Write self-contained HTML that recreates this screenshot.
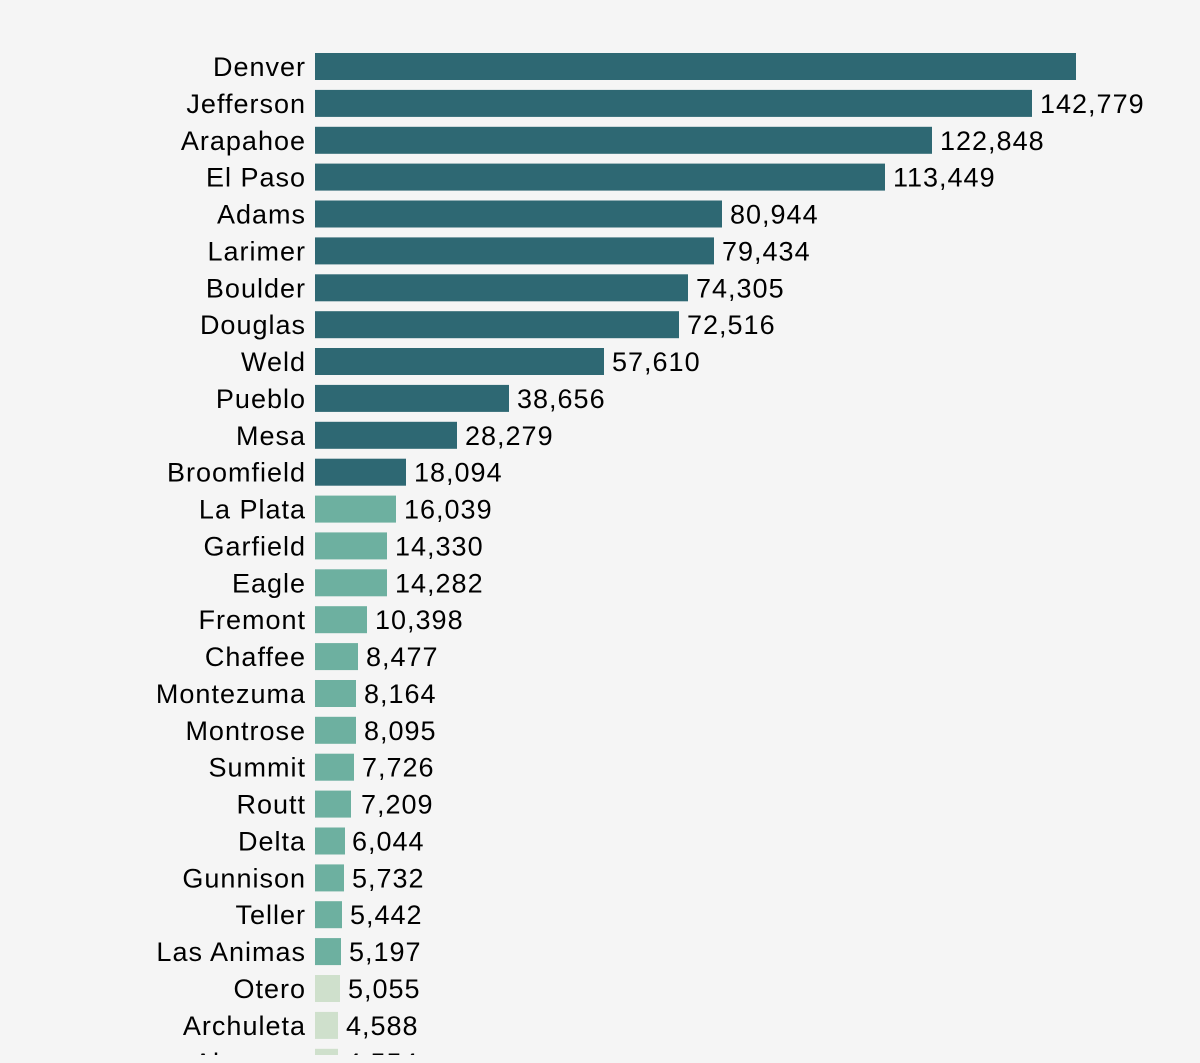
<!DOCTYPE html>
<html><head><meta charset="utf-8"><style>
html,body{margin:0;padding:0;background:#f5f5f5;}
svg{display:block;font-family:"Liberation Sans","DejaVu Sans",sans-serif;font-size:27px;letter-spacing:1px;}
.l{text-anchor:end;fill:#000}
.v{fill:#000}
.d{fill:#2e6873}.m{fill:#6db0a0}.s{fill:#cfe0cc}
</style></head><body>
<svg width="1200" height="1063" viewBox="0 0 1200 1063">
<rect width="1200" height="1063" fill="#f5f5f5"/>
<clipPath id="c"><rect x="0" y="0" width="1200" height="1055"/></clipPath>
<g clip-path="url(#c)">
<rect class="d" x="315" y="53" width="761" height="27"/><text class="l" x="306" y="76">Denver</text>
<rect class="d" x="315" y="89.9" width="717" height="27"/><text class="l" x="306" y="112.9">Jefferson</text><text class="v" x="1040" y="112.9">142,779</text>
<rect class="d" x="315" y="126.8" width="617" height="27"/><text class="l" x="306" y="149.8">Arapahoe</text><text class="v" x="940" y="149.8">122,848</text>
<rect class="d" x="315" y="163.6" width="570" height="27"/><text class="l" x="306" y="186.6">El Paso</text><text class="v" x="893" y="186.6">113,449</text>
<rect class="d" x="315" y="200.5" width="407" height="27"/><text class="l" x="306" y="223.5">Adams</text><text class="v" x="730" y="223.5">80,944</text>
<rect class="d" x="315" y="237.4" width="399" height="27"/><text class="l" x="306" y="260.4">Larimer</text><text class="v" x="722" y="260.4">79,434</text>
<rect class="d" x="315" y="274.3" width="373" height="27"/><text class="l" x="306" y="297.3">Boulder</text><text class="v" x="696" y="297.3">74,305</text>
<rect class="d" x="315" y="311.2" width="364" height="27"/><text class="l" x="306" y="334.2">Douglas</text><text class="v" x="687" y="334.2">72,516</text>
<rect class="d" x="315" y="348" width="289" height="27"/><text class="l" x="306" y="371">Weld</text><text class="v" x="612" y="371">57,610</text>
<rect class="d" x="315" y="384.9" width="194" height="27"/><text class="l" x="306" y="407.9">Pueblo</text><text class="v" x="517" y="407.9">38,656</text>
<rect class="d" x="315" y="421.8" width="142" height="27"/><text class="l" x="306" y="444.8">Mesa</text><text class="v" x="465" y="444.8">28,279</text>
<rect class="d" x="315" y="458.7" width="91" height="27"/><text class="l" x="306" y="481.7">Broomfield</text><text class="v" x="414" y="481.7">18,094</text>
<rect class="m" x="315" y="495.6" width="81" height="27"/><text class="l" x="306" y="518.6">La Plata</text><text class="v" x="404" y="518.6">16,039</text>
<rect class="m" x="315" y="532.4" width="72" height="27"/><text class="l" x="306" y="555.4">Garfield</text><text class="v" x="395" y="555.4">14,330</text>
<rect class="m" x="315" y="569.3" width="72" height="27"/><text class="l" x="306" y="592.3">Eagle</text><text class="v" x="395" y="592.3">14,282</text>
<rect class="m" x="315" y="606.2" width="52" height="27"/><text class="l" x="306" y="629.2">Fremont</text><text class="v" x="375" y="629.2">10,398</text>
<rect class="m" x="315" y="643.1" width="43" height="27"/><text class="l" x="306" y="666.1">Chaffee</text><text class="v" x="366" y="666.1">8,477</text>
<rect class="m" x="315" y="680" width="41" height="27"/><text class="l" x="306" y="703">Montezuma</text><text class="v" x="364" y="703">8,164</text>
<rect class="m" x="315" y="716.8" width="41" height="27"/><text class="l" x="306" y="739.8">Montrose</text><text class="v" x="364" y="739.8">8,095</text>
<rect class="m" x="315" y="753.7" width="39" height="27"/><text class="l" x="306" y="776.7">Summit</text><text class="v" x="362" y="776.7">7,726</text>
<rect class="m" x="315" y="790.6" width="36" height="27"/><text class="l" x="306" y="813.6">Routt</text><text class="v" x="361" y="813.6">7,209</text>
<rect class="m" x="315" y="827.5" width="30" height="27"/><text class="l" x="306" y="850.5">Delta</text><text class="v" x="352" y="850.5">6,044</text>
<rect class="m" x="315" y="864.4" width="29" height="27"/><text class="l" x="306" y="887.4">Gunnison</text><text class="v" x="352" y="887.4">5,732</text>
<rect class="m" x="315" y="901.2" width="27" height="27"/><text class="l" x="306" y="924.2">Teller</text><text class="v" x="350" y="924.2">5,442</text>
<rect class="m" x="315" y="938.1" width="26" height="27"/><text class="l" x="306" y="961.1">Las Animas</text><text class="v" x="349" y="961.1">5,197</text>
<rect class="s" x="315" y="975" width="25" height="27"/><text class="l" x="306" y="998">Otero</text><text class="v" x="348" y="998">5,055</text>
<rect class="s" x="315" y="1011.9" width="23" height="27"/><text class="l" x="306" y="1034.9">Archuleta</text><text class="v" x="346" y="1034.9">4,588</text>
<rect class="s" x="315" y="1048.8" width="23" height="27"/><text class="l" x="306" y="1071.8">Alamosa</text><text class="v" x="346" y="1071.8">4,554</text>
</g>
</svg>
</body></html>
